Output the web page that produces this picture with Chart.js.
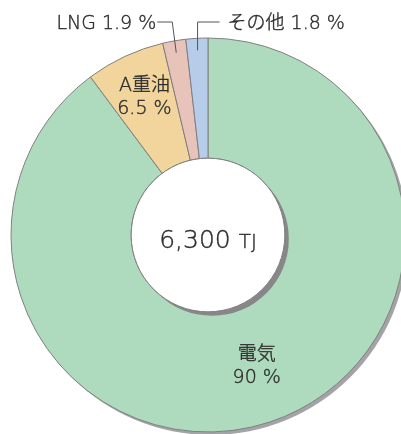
<!DOCTYPE html>
<html><head><meta charset="utf-8">
<script src="https://cdn.jsdelivr.net/npm/chart.js@4"></script>
<style>html,body{margin:0;padding:0;background:#fff}#wrap{width:401px;height:434px;position:relative;overflow:hidden}</style>
</head><body><div id="wrap"><canvas id="c" width="401" height="434"></canvas></div>
<script>
const categories = ['電気', 'A重油', 'LNG', 'その他'];
const shares = [90, 6.5, 1.9, 1.8];
const shareLabels = ['90 %', '6.5 %', '1.9 %', '1.8 %'];
const sliceColors = ['#aedabd', '#f2d59d', '#e8c3ba', '#b7cce8'];
const totalValue = '6,300';
const totalUnit = 'TJ';

const FONT = '"DejaVu Sans", "Noto Sans CJK JP", sans-serif';
const W = '200 ';
const TEXT = '#2e2e2e';
const TXT_STROKE = 0.4;

function arcPoint(arc, r, frac) {
  const a = arc.startAngle + (arc.endAngle - arc.startAngle) * frac;
  return { x: arc.x + Math.cos(a) * r, y: arc.y + Math.sin(a) * r };
}
function txt(ctx, s, x, y) {
  ctx.fillText(s, x, y);
  ctx.strokeText(s, x, y);
}

const decor = {
  id: 'decor',
  beforeDatasetsDraw(chart) {
    const arc = chart.getDatasetMeta(0).data[0];
    const ctx = chart.ctx;
    ctx.save();
    ctx.beginPath();
    ctx.arc(arc.x + 3, arc.y + 3, arc.outerRadius, 0, Math.PI * 2);
    ctx.fillStyle = '#a4a4a8';
    ctx.fill();
    ctx.restore();
  },
  afterDatasetsDraw(chart) {
    const arcs = chart.getDatasetMeta(0).data;
    const a0 = arcs[0];
    const ctx = chart.ctx;
    const cx = a0.x, cy = a0.y, ir = a0.innerRadius, orr = a0.outerRadius;
    ctx.save();
    // inner hole with shadow
    ctx.beginPath();
    ctx.arc(cx + 4, cy + 4, ir, 0, Math.PI * 2);
    ctx.fillStyle = '#87878a';
    ctx.fill();
    ctx.beginPath();
    ctx.arc(cx, cy, ir, 0, Math.PI * 2);
    ctx.fillStyle = '#ffffff';
    ctx.fill();
    ctx.lineWidth = 1;
    ctx.strokeStyle = '#808080';
    ctx.stroke();

    // center total
    ctx.fillStyle = TEXT;
    ctx.strokeStyle = TEXT;
    ctx.lineWidth = TXT_STROKE;
    ctx.lineJoin = 'round';
    ctx.textBaseline = 'alphabetic';
    ctx.font = W + '25px ' + FONT;
    const w1 = ctx.measureText(totalValue + ' ').width;
    ctx.font = W + '20px ' + FONT;
    const w2 = ctx.measureText(totalUnit).width;
    const sx = cx - (w1 + w2) / 2;
    ctx.font = W + '25px ' + FONT;
    ctx.textAlign = 'left';
    txt(ctx, totalValue + ' ', sx, cy + 13);
    ctx.font = W + '20px ' + FONT;
    txt(ctx, totalUnit, sx + w1, cy + 13);

    // inside labels
    ctx.textAlign = 'center';
    ctx.font = W + '19px ' + FONT;
    let p = arcPoint(arcs[0], 136, 0.5);
    txt(ctx, categories[0], p.x + 6, p.y - 4);
    txt(ctx, shareLabels[0], p.x + 6, p.y + 19);
    p = arcPoint(arcs[1], 153, 0.5);
    txt(ctx, categories[1], p.x + 1, p.y - 5);
    txt(ctx, shareLabels[1], p.x + 1, p.y + 18);

    // leader lines
    const topY = cy - orr - 16;
    p = arcPoint(arcs[2], orr - 12, 0.5);
    ctx.strokeStyle = '#555';
    ctx.lineWidth = 1;
    ctx.beginPath();
    ctx.moveTo(p.x, p.y);
    ctx.lineTo(p.x - 4, topY);
    ctx.lineTo(p.x - 19, topY);
    ctx.stroke();
    ctx.strokeStyle = TEXT;
    ctx.lineWidth = TXT_STROKE;
    ctx.textAlign = 'right';
    txt(ctx, categories[2] + ' ' + shareLabels[2], p.x - 20, topY + 7);

    p = arcPoint(arcs[3], orr - 12, 0.5);
    ctx.strokeStyle = '#555';
    ctx.lineWidth = 1;
    ctx.beginPath();
    ctx.moveTo(p.x, p.y);
    ctx.lineTo(p.x, topY);
    ctx.lineTo(p.x + 22, topY);
    ctx.stroke();
    ctx.strokeStyle = TEXT;
    ctx.lineWidth = TXT_STROKE;
    ctx.textAlign = 'left';
    txt(ctx, categories[3] + ' ' + shareLabels[3], p.x + 30, topY + 7);
    ctx.restore();
  }
};

new Chart(document.getElementById('c'), {
  type: 'doughnut',
  data: {
    labels: categories,
    datasets: [{
      data: shares,
      backgroundColor: sliceColors,
      borderColor: '#808080',
      borderWidth: 1
    }]
  },
  options: {
    responsive: false,
    devicePixelRatio: 1,
    animation: false,
    radius: 197,
    cutout: '39%',
    layout: { padding: { left: 15, top: 36, right: 0, bottom: 0 } },
    plugins: { legend: { display: false }, tooltip: { enabled: false } }
  },
  plugins: [decor]
});
</script>
</body></html>
